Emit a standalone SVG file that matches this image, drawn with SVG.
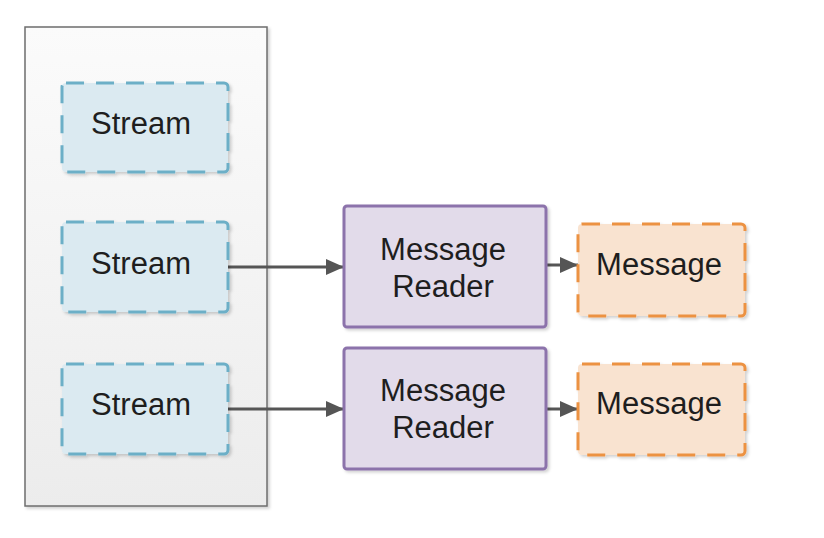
<svg xmlns="http://www.w3.org/2000/svg" width="824" height="538" viewBox="0 0 824 538">
<defs>
<linearGradient id="cg" x1="0" y1="0" x2="0" y2="1">
<stop offset="0" stop-color="#fbfbfb"/>
<stop offset="1" stop-color="#ececec"/>
</linearGradient>
<filter id="sh" x="-10%" y="-10%" width="130%" height="130%">
<feDropShadow dx="2" dy="2" stdDeviation="1.5" flood-color="#000" flood-opacity="0.18"/>
</filter>
<marker id="ah" markerWidth="20" markerHeight="16" refX="18" refY="8" orient="auto" markerUnits="userSpaceOnUse">
<path d="M0,0 L18,8 L0,16 Z" fill="#555"/>
</marker>
</defs>
<style>
.txt{font-family:"Liberation Sans",Arial,sans-serif;font-size:31px;fill:#1e1e1e;text-anchor:middle}
.stream{fill:#dbeaf1;stroke:#6cafc7;stroke-width:3;stroke-dasharray:18,12}
.reader{fill:#e2dbea;stroke:#8c73ab;stroke-width:3}
.msg{fill:#f9e3d0;stroke:#ec9243;stroke-width:3;stroke-dasharray:18,12}
.conn{stroke:#555;stroke-width:3;fill:none;marker-end:url(#ah)}
</style>
<g id="container">
<rect x="25" y="27" width="242" height="479" fill="url(#cg)" stroke="#6e6e6e" stroke-width="1.5" filter="url(#sh)"/>
</g>
<g id="connectors">
<line class="conn" x1="228" y1="267" x2="344" y2="267"/>
<line class="conn" x1="228" y1="409" x2="344" y2="409"/>
<line class="conn" x1="546" y1="265" x2="578" y2="265"/>
<line class="conn" x1="546" y1="409" x2="578" y2="409"/>
</g>
<g id="stream1">
<rect class="stream" x="62" y="83" width="166" height="89" rx="4" filter="url(#sh)"/>
<text class="txt" x="141" y="134">Stream</text>
</g>
<g id="stream2">
<rect class="stream" x="62" y="222" width="166" height="90" rx="4" filter="url(#sh)"/>
<text class="txt" x="141" y="274">Stream</text>
</g>
<g id="stream3">
<rect class="stream" x="62" y="364" width="166" height="90" rx="4" filter="url(#sh)"/>
<text class="txt" x="141" y="415">Stream</text>
</g>
<g id="reader1">
<rect class="reader" x="344" y="206" width="202" height="121" rx="3" filter="url(#sh)"/>
<text class="txt" x="443" y="260">Message</text>
<text class="txt" x="443" y="297">Reader</text>
</g>
<g id="reader2">
<rect class="reader" x="344" y="348" width="202" height="121" rx="3" filter="url(#sh)"/>
<text class="txt" x="443" y="401">Message</text>
<text class="txt" x="443" y="438">Reader</text>
</g>
<g id="message1">
<rect class="msg" x="578" y="224" width="167" height="92" rx="4" filter="url(#sh)"/>
<text class="txt" x="659" y="275">Message</text>
</g>
<g id="message2">
<rect class="msg" x="578" y="364" width="167" height="91" rx="4" filter="url(#sh)"/>
<text class="txt" x="659" y="414">Message</text>
</g>
</svg>
